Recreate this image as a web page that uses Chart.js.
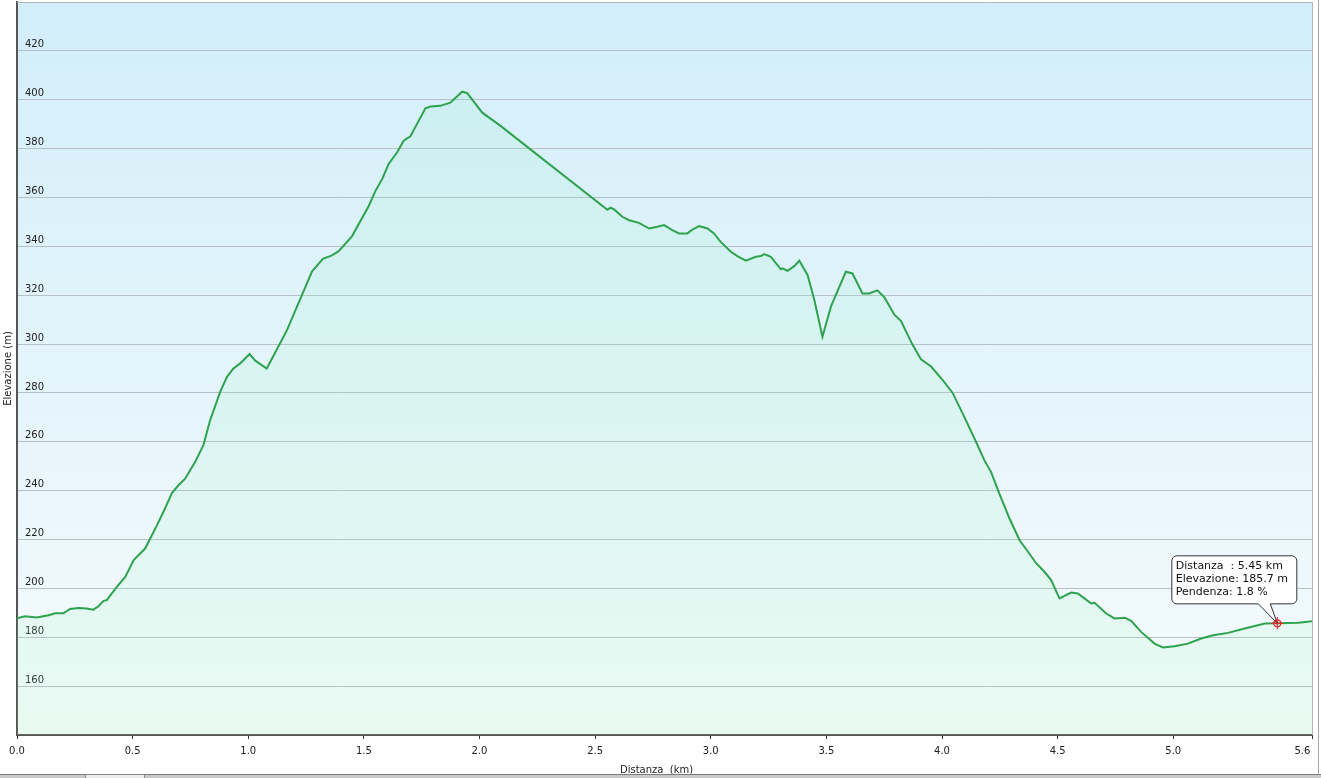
<!DOCTYPE html>
<html>
<head>
<meta charset="utf-8">
<script src="https://cdn.jsdelivr.net/npm/chart.js@4/dist/chart.umd.min.js"></script>
<style>
    html, body { margin: 0; padding: 0; background: #fff; }
    #wrap { position: relative; width: 1321px; height: 778px; overflow: hidden; }
    #frame { position: absolute; left: 1318px; top: 0; width: 1px; height: 774px; background: #a8a8a8; }
    #scroll { position: absolute; left: 0; top: 774px; width: 1321px; height: 4px; background: #c9c9c9; border-top: 1px solid #7d7d7d; }
    #thumb { position: absolute; left: 85px; top: 774px; width: 58px; height: 4px; background: #ececec; border: 1px solid #8a8a8a; border-bottom: none; }
</style>
</head>
<body>
<div id="wrap">
    <canvas id="profile" width="1321" height="778"></canvas>
    <div id="frame"></div>
    <div id="scroll"></div>
    <div id="thumb"></div>
</div>
<script>
const distances = [
    0.00, 0.035, 0.085, 0.136, 0.165, 0.20, 0.23, 0.265, 0.30, 0.33,
    0.352, 0.374, 0.388, 0.43, 0.468, 0.504, 0.525, 0.554, 0.605, 0.64,
    0.67, 0.698, 0.727, 0.77, 0.806, 0.835, 0.879, 0.908, 0.936, 0.965,
    1.006, 1.03, 1.08, 1.167, 1.276, 1.323, 1.362, 1.391, 1.449, 1.521,
    1.55, 1.579, 1.607, 1.644, 1.672, 1.701, 1.766, 1.788, 1.83, 1.874,
    1.925, 1.947, 2.012, 2.091, 2.553, 2.567, 2.582, 2.618, 2.647, 2.69,
    2.733, 2.769, 2.798, 2.834, 2.863, 2.899, 2.921, 2.95, 2.986, 3.014,
    3.043, 3.087, 3.115, 3.152, 3.195, 3.217, 3.231, 3.26, 3.303, 3.31,
    3.332, 3.361, 3.383, 3.419, 3.448, 3.483, 3.52, 3.556, 3.584, 3.613,
    3.656, 3.685, 3.72, 3.75, 3.794, 3.823, 3.87, 3.909, 3.952, 4.003,
    4.046, 4.097, 4.154, 4.183, 4.212, 4.248, 4.292, 4.335, 4.372, 4.408,
    4.443, 4.472, 4.508, 4.558, 4.587, 4.616, 4.645, 4.66, 4.71, 4.746,
    4.79, 4.818, 4.861, 4.919, 4.955, 5.006, 5.063, 5.121, 5.172, 5.237,
    5.309, 5.396, 5.45, 5.541, 5.60
];
const elevations = [
    187.8, 188.6, 188.1, 189.0, 189.8, 189.8, 191.6, 192.0, 191.8, 191.3,
    192.7, 194.9, 195.2, 200.4, 204.7, 211.5, 213.6, 216.3, 225.8, 232.7,
    239.0, 242.2, 244.9, 251.7, 258.6, 268.8, 280.5, 286.6, 290.0, 292.1,
    295.9, 293.2, 290.0, 305.6, 329.8, 334.9, 336.3, 338.0, 344.2, 356.5,
    362.7, 367.5, 373.7, 378.5, 383.2, 385.0, 396.5, 397.2, 397.5, 398.8,
    403.3, 402.7, 394.7, 389.3, 355.0, 355.8, 355.1, 352.1, 350.7, 349.6,
    347.3, 348.0, 348.7, 346.6, 345.3, 345.3, 346.9, 348.3, 347.3, 345.3,
    341.8, 337.8, 336.0, 334.1, 335.7, 336.0, 336.8, 335.7, 330.6, 331.0,
    330.0, 331.9, 334.1, 328.2, 318.0, 303.0, 315.4, 323.4, 329.6, 328.9,
    320.7, 320.7, 322.0, 319.3, 312.0, 309.4, 300.2, 293.8, 290.9, 285.2,
    280.0, 270.1, 258.6, 252.5, 247.7, 238.8, 228.6, 219.8, 215.0, 210.2,
    206.8, 203.4, 195.9, 198.3, 197.9, 195.9, 193.8, 194.1, 189.7, 187.7,
    188.0, 186.7, 182.2, 177.4, 175.8, 176.3, 177.4, 179.5, 180.8, 181.8,
    183.6, 185.6, 185.7, 185.9, 186.6
];

const xTicks = [0, 0.5, 1.0, 1.5, 2.0, 2.5, 3.0, 3.5, 4.0, 4.5, 5.0, 5.6];
const yTicks = [160, 180, 200, 220, 240, 260, 280, 300, 320, 340, 360, 380, 400, 420];

// punto evidenziato (tooltip fisso)
const markerKm = 5.45;
const markerElev = 185.7;
const markerLines = ['Distanza  : 5.45 km', 'Elevazione: 185.7 m', 'Pendenza: 1.8 %'];

const FONT = 'DejaVu Sans';

const plotBackground = {
    id: 'plotBackground',
    beforeDraw(chart) {
        const { ctx, chartArea: a } = chart;
        const g = ctx.createLinearGradient(0, a.top, 0, a.bottom);
        g.addColorStop(0, '#d2eefa');
        g.addColorStop(1, '#f6fbfd');
        ctx.save();
        ctx.fillStyle = g;
        ctx.fillRect(a.left, a.top, a.right - a.left, a.bottom - a.top);
        ctx.restore();
    },
    afterDraw(chart) {
        const { ctx, chartArea: a } = chart;
        ctx.save();
        ctx.strokeStyle = '#b4b4b4';
        ctx.lineWidth = 1;
        ctx.beginPath();
        ctx.moveTo(a.left, a.top + 0.5);
        ctx.lineTo(a.right + 0.5, a.top + 0.5);
        ctx.lineTo(a.right + 0.5, a.bottom);
        ctx.stroke();
        ctx.restore();
    },
};

const pointNote = {
    id: 'pointNote',
    afterDatasetsDraw(chart) {
        const { ctx, scales: { x, y } } = chart;
        const px = x.getPixelForValue(markerKm);
        const py = y.getPixelForValue(markerElev);

        // fumetto
        const bx = px - 105.5, by = py - 67.5, bw = 125, bh = 48, r = 5;
        ctx.save();
        ctx.beginPath();
        ctx.moveTo(bx + r, by);
        ctx.lineTo(bx + bw - r, by);
        ctx.arcTo(bx + bw, by, bx + bw, by + r, r);
        ctx.lineTo(bx + bw, by + bh - r);
        ctx.arcTo(bx + bw, by + bh, bx + bw - r, by + bh, r);
        ctx.lineTo(px - 7, by + bh);
        ctx.lineTo(px, py);
        ctx.lineTo(px - 19, by + bh);
        ctx.lineTo(bx + r, by + bh);
        ctx.arcTo(bx, by + bh, bx, by + bh - r, r);
        ctx.lineTo(bx, by + r);
        ctx.arcTo(bx, by, bx + r, by, r);
        ctx.closePath();
        ctx.fillStyle = '#ffffff';
        ctx.fill();
        ctx.strokeStyle = '#333333';
        ctx.lineWidth = 1;
        ctx.stroke();

        ctx.fillStyle = '#111';
        ctx.font = `11px "${FONT}"`;
        ctx.textBaseline = 'middle';
        markerLines.forEach((line, i) => {
            ctx.fillText(line, bx + 4, by + 10.5 + i * 13);
        });

        // marcatore rosso
        ctx.strokeStyle = '#e0282a';
        ctx.lineWidth = 1.2;
        ctx.beginPath();
        ctx.arc(px, py, 3.5, 0, Math.PI * 2);
        ctx.moveTo(px - 6, py); ctx.lineTo(px + 6, py);
        ctx.moveTo(px, py - 6); ctx.lineTo(px, py + 6);
        ctx.stroke();
        ctx.restore();
    },
};

const ctx = document.getElementById('profile');

new Chart(ctx, {
    type: 'line',
    data: {
        datasets: [
            {
                data: distances.map((d, i) => ({ x: d, y: elevations[i] })),
                borderColor: '#2ea34e',
                borderWidth: 2,
                pointRadius: 0,
                tension: 0,
                fill: 'start',
                backgroundColor: (context) => {
                    const area = context.chart.chartArea;
                    if (!area) {
                        return 'rgba(150,235,180,0.12)';
                    }
                    const g = context.chart.ctx.createLinearGradient(0, area.top, 0, area.bottom);
                    g.addColorStop(0, 'rgba(140,235,190,0.14)');
                    g.addColorStop(1, 'rgba(160,245,180,0.14)');
                    return g;
                },
            },
        ],
    },
    options: {
        responsive: false,
        animation: false,
        devicePixelRatio: 1,
        layout: { padding: { top: 2, right: 9, left: 0, bottom: 0 } },
        plugins: {
            legend: { display: false },
            tooltip: { enabled: false },
        },
        scales: {
            x: {
                type: 'linear',
                min: 0,
                max: 5.6,
                afterBuildTicks: (scale) => {
                    scale.ticks = xTicks.map((v) => ({ value: v }));
                },
                afterFit: (scale) => {
                    scale.height = 43;
                    scale.paddingLeft = 0;
                    scale.paddingRight = 0;
                },
                ticks: {
                    autoSkip: false,
                    maxRotation: 0,
                    padding: 6,
                    color: '#222',
                    font: { family: FONT, size: 10 },
                    // l'ultima etichetta finisce sul bordo destro
                    callback: (value) => (value === 5.6 ? '5.6      ' : Number(value).toFixed(1)),
                },
                grid: {
                    drawOnChartArea: false,
                    drawTicks: true,
                    tickLength: 4,
                    color: '#333',
                },
                border: { display: true, color: '#555', width: 2 },
                title: {
                    display: true,
                    text: 'Distanza  (km)     ',
                    color: '#222',
                    font: { family: FONT, size: 10 },
                    padding: { top: 0, bottom: 2 },
                },
            },
            y: {
                min: 140,
                max: 440,
                afterBuildTicks: (scale) => {
                    scale.ticks = yTicks.map((v) => ({ value: v }));
                },
                afterFit: (scale) => {
                    scale.width = 17;
                    scale.paddingTop = 0;
                    scale.paddingBottom = 0;
                },
                ticks: {
                    mirror: true,
                    padding: 8,
                    labelOffset: -6,
                    color: '#222',
                    font: { family: FONT, size: 10 },
                },
                grid: {
                    color: '#b6c0c5',
                    drawTicks: false,
                },
                border: { display: true, color: '#555', width: 2 },
                title: {
                    display: true,
                    text: 'Elevazione (m)',
                    color: '#222',
                    font: { family: FONT, size: 10 },
                    padding: { top: 2, bottom: 0 },
                },
            },
        },
    },
    plugins: [plotBackground, pointNote],
});
</script>
</body>
</html>
